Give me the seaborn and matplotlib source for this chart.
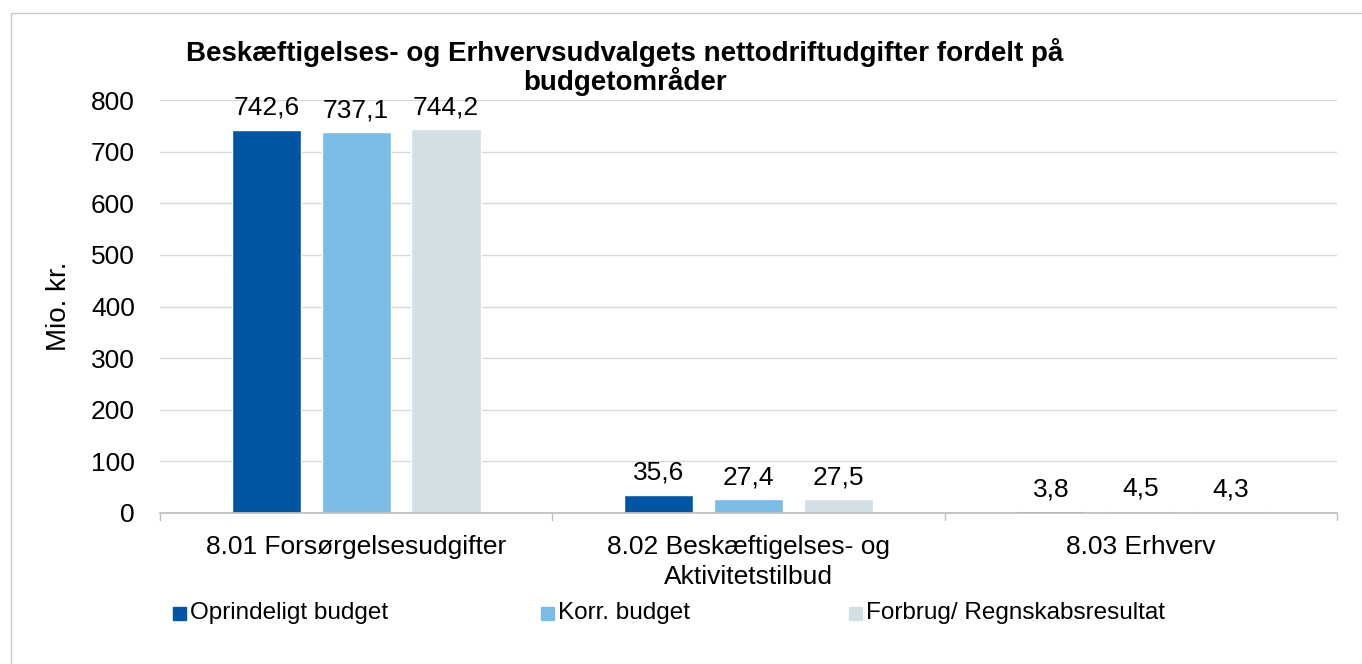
import pandas as pd
import matplotlib.pyplot as plt
import seaborn as sns
from matplotlib.patches import Rectangle

# Data
categories = ["8.01 Forsørgelsesudgifter", "8.02 Beskæftigelses- og\nAktivitetstilbud", "8.03 Erhverv"]
series = ["Oprindeligt budget", "Korr. budget", "Forbrug/ Regnskabsresultat"]
oprindeligt = [742.6, 35.6, 3.8]
korr = [737.1, 27.4, 4.5]
forbrug = [744.2, 27.5, 4.3]
colors = ["#0055A4", "#7CBDE8", "#D3DEE5"]

df = pd.DataFrame({
    "Kategori": categories * 3,
    "Serie": [series[0]] * 3 + [series[1]] * 3 + [series[2]] * 3,
    "Værdi": oprindeligt + korr + forbrug,
})

sns.set_theme(style="white")
plt.rcParams["font.family"] = ["Liberation Sans", "DejaVu Sans"]

fig = plt.figure(figsize=(13.62, 6.64), dpi=100)
ax = fig.add_axes([160 / 1362, 1 - 513 / 664, (1337 - 160) / 1362, (513 - 100) / 664])

sns.barplot(data=df, x="Kategori", y="Værdi", hue="Serie", hue_order=series,
            palette=colors, width=0.687, gap=0.23, saturation=1, errorbar=None,
            legend=False, ax=ax)

# Value labels with decimal comma
for cont in ax.containers:
    labels = [f"{b.get_height():.1f}".replace(".", ",") for b in cont]
    ax.bar_label(cont, labels=labels, padding=7, fontsize=19, color="black")

ax.set_ylim(0, 800)
ax.set_xlim(-0.5, 2.5)
ax.set_yticks(range(0, 801, 100))
ax.yaxis.grid(True, color="#D9D9D9", linewidth=1)
ax.set_axisbelow(True)
for s in ["top", "right", "left"]:
    ax.spines[s].set_visible(False)
ax.spines["bottom"].set_color("#BFBFBF")
ax.tick_params(axis="y", labelsize=19, length=0, pad=18, labelcolor="black")
ax.tick_params(axis="x", labelsize=19, length=0, pad=16, labelcolor="black")
for lbl in ax.get_xticklabels():
    lbl.set_linespacing(1.3)
ax.set_xlabel("")
ax.set_ylabel("Mio. kr.", fontsize=20, labelpad=14, color="black")

# Category separator ticks on the x axis
for xb in [-0.5, 0.5, 1.5, 2.5]:
    ax.plot([xb, xb], [0, -0.018], transform=ax.get_xaxis_transform(),
            color="#BFBFBF", linewidth=1, clip_on=False)

# Title
fig.text(625 / 1362, 1 - 67 / 664,
         "Beskæftigelses- og Erhvervsudvalgets nettodriftudgifter fordelt på\nbudgetområder",
         ha="center", va="center", fontsize=20, fontweight="bold", linespacing=1.0,
         color="black")

# Legend: three separate entries spread across the width
legend_x = [173, 541, 849]
for name, col, lx in zip(series, colors, legend_x):
    fig.patches.append(Rectangle((lx / 1362, 1 - 620 / 664), 13 / 1362, 13 / 664,
                                 transform=fig.transFigure, color=col))
    fig.text((lx + 17) / 1362, 1 - 613 / 664, name, ha="left", va="center",
             fontsize=17.5, color="black")

# Outer border
fig.patches.append(Rectangle((11 / 1362, -0.1), 1.2, 1 - 13 / 664 + 0.1,
                             transform=fig.transFigure, fill=False,
                             edgecolor="#C8C8C8", linewidth=1))

fig.savefig("out.png", dpi=100)
